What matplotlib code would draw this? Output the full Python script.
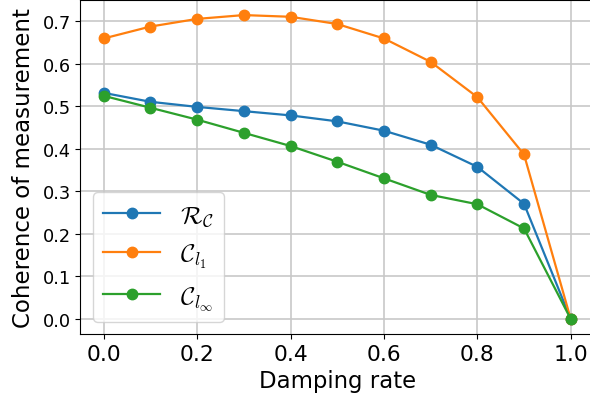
import numpy as np
import matplotlib
matplotlib.use("Agg")
import matplotlib.pyplot as plt

plt.rcParams['mathtext.fontset'] = 'cm'

# damping rate on the x axis
damping = [0.0, 0.1, 0.2, 0.3, 0.4, 0.5, 0.6, 0.7, 0.8, 0.9, 1.0]

# coherence values
r_c = [0.532, 0.511, 0.499, 0.489, 0.479, 0.465, 0.443, 0.410, 0.358, 0.271, 0.0]
c_l1 = [0.660, 0.688, 0.706, 0.715, 0.711, 0.694, 0.660, 0.605, 0.522, 0.387, 0.0]
c_linf = [0.525, 0.497, 0.469, 0.438, 0.407, 0.370, 0.331, 0.292, 0.270, 0.213, 0.0]

labels = [r'$\mathcal{R}_\mathcal{C}$', r'$\mathcal{C}_{l_1}$', r'$\mathcal{C}_{l_\infty}$']

fig = plt.figure(figsize=(5.9, 4.02), dpi=100)
ax = fig.add_axes([0.1362, 0.1662, 0.8707, 0.8316])

for ys, lab in zip([r_c, c_l1, c_linf], labels):
    ax.plot(damping, ys, 'o-', lw=1.6, ms=7.5, label=lab)

ax.grid(True, color='#c8c8c8', lw=1.2)
ax.set_axisbelow(True)
ax.set_xticks([0.0, 0.2, 0.4, 0.6, 0.8, 1.0])
ax.tick_params(axis='x', labelsize=15.7)
ax.tick_params(axis='y', labelsize=12.8)
ax.set_xlabel('Damping rate', fontsize=16.4)
ax.set_ylabel('Coherence of measurement', fontsize=16.5, labelpad=5)

ax.legend(loc='lower left', fontsize=18, handlelength=2.3, labelspacing=0.55,
          borderaxespad=0.5)

fig.savefig('out.png', dpi=100)
